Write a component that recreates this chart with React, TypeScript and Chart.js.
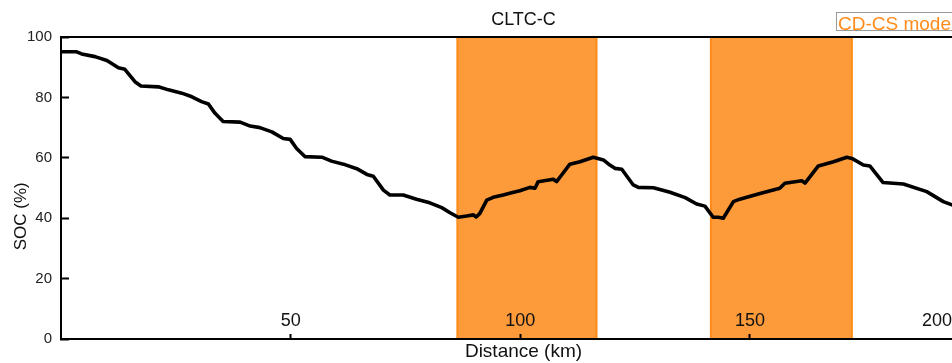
import React, { useEffect, useRef } from "react";
import { Chart, registerables } from "chart.js";

Chart.register(...registerables);

const FONT = '"Liberation Sans", Arial, Helvetica, sans-serif';

// State of charge along the CLTC-C drive (distance in km, SOC in %)
const distanceKm = [
  0, 3.4, 4.5, 7.4, 10.0, 12.5, 13.9, 16.1, 17.4, 21.2, 23.4, 26.3, 28.5, 30.6,
  32.1, 33.5, 35.3, 39.0, 41.2, 43.3, 45.9, 48.4, 49.9, 51.3, 53.1, 56.8, 58.9,
  61.5, 64.4, 66.6, 68.0, 70.2, 71.6, 74.5, 77.4, 80.3, 82.9, 84.7, 86.5, 88.3,
  89.8, 90.4, 91.2, 92.7, 94.1, 96.3, 98.1, 99.9, 102.1, 103.2, 103.9, 107.2,
  107.9, 109.0, 110.8, 113.0, 115.9, 118.1, 119.5, 120.6, 122.1, 124.6, 125.7,
  129.0, 132.6, 135.9, 138.4, 140.2, 142.0, 143.1, 144.2, 146.4, 147.8, 152.2,
  156.5, 157.6, 161.3, 162.0, 164.9, 168.2, 171.1, 172.2, 174.7, 176.1, 179.0,
  183.4, 188.5, 192.1, 194.0, 196.0,
];
const socPercent = [
  95.1, 95.1, 94.4, 93.5, 92.2, 89.8, 89.3, 85.2, 83.8, 83.5, 82.5, 81.4, 80.2,
  78.6, 77.8, 74.8, 72.0, 71.8, 70.5, 70.0, 68.6, 66.4, 66.1, 63.1, 60.4, 60.2,
  58.9, 57.9, 56.4, 54.5, 53.9, 49.3, 47.7, 47.7, 46.3, 45.1, 43.5, 41.8, 40.3,
  40.7, 41.1, 40.4, 41.6, 46.0, 46.9, 47.7, 48.4, 49.1, 50.2, 49.9, 52.1, 52.9,
  52.1, 54.3, 57.9, 58.7, 60.2, 59.3, 57.6, 56.5, 56.2, 51.0, 50.2, 50.1, 48.6,
  46.8, 44.7, 44.0, 40.3, 40.3, 40.0, 45.5, 46.3, 48.2, 49.9, 51.6, 52.4, 51.6,
  57.3, 58.7, 60.2, 59.8, 57.6, 57.3, 51.8, 51.3, 48.8, 45.5, 44.4, 44.0,
];

// Charge-depleting / charge-sustaining windows (km)
const cdcsStartKm = [86.3, 141.5];
const cdcsEndKm = [116.6, 172.2];

const xTickValues = [50, 100, 150, 200];
const yTickValues = [0, 20, 40, 60, 80, 100];
const X_MIN = 0;
const X_MAX = 201.4;

const CDCS_FILL = "#FD9A3A";
const CDCS_EDGE = "#FF8C1A";

export default function App() {
  const canvasRef = useRef<HTMLCanvasElement | null>(null);

  useEffect(() => {
    document.body.style.margin = "0";
    const canvas = canvasRef.current;
    if (!canvas) return;

    const socPoints = distanceKm.map((x, i) => ({ x, y: socPercent[i] }));
    const bandSets = cdcsStartKm.map((start, i) => ({
      label: "CD-CS mode",
      data: [
        { x: start, y: 0 },
        { x: start, y: 100 },
        { x: cdcsEndKm[i], y: 100 },
        { x: cdcsEndKm[i], y: 0 },
      ],
      borderColor: CDCS_EDGE,
      borderWidth: 2,
      backgroundColor: CDCS_FILL,
      fill: "origin",
      pointRadius: 0,
      tension: 0,
      order: 2,
    }));

    const chart = new Chart(canvas, {
      type: "line",
      data: {
        datasets: [
          {
            label: "SOC",
            data: socPoints,
            borderColor: "#000",
            borderWidth: 3.6,
            borderJoinStyle: "round",
            pointRadius: 0,
            fill: false,
            tension: 0,
            order: 1,
          },
          ...bandSets,
        ],
      },
      options: {
        responsive: false,
        animation: false,
        layout: { padding: { left: 0, right: 14, top: 0, bottom: 0 } },
        plugins: {
          legend: { display: false },
          tooltip: { enabled: false },
          title: {
            display: true,
            text: "CLTC-C",
            fullSize: false,
            color: "#111",
            font: { size: 18, family: FONT, weight: "normal" },
            padding: { top: 9, bottom: 6.4 },
          },
        },
        scales: {
          x: {
            type: "linear",
            position: "bottom",
            min: X_MIN,
            max: X_MAX,
            afterBuildTicks: (s: any) => {
              s.ticks = xTickValues.map((value) => ({ value }));
            },
            afterFit: (s: any) => {
              s.height = 24;
              s.paddingLeft = 0;
              s.paddingRight = 0;
            },
            border: { display: true, color: "#000", width: 2, z: 2 },
            grid: {
              z: 2,
              drawOnChartArea: false,
              drawTicks: true,
              tickLength: -5,
              tickColor: "#000",
              tickWidth: 2,
            },
            ticks: {
              z: 2,
              autoSkip: false,
              maxRotation: 0,
              minRotation: 0,
              mirror: true,
              padding: 7,
              color: "#111",
              font: { size: 18, family: FONT },
              // the last label is kept inside the visible frame
              callback: (v: any) =>
                v === 200 ? "200" + " ".repeat(17) : String(v),
            },
            title: {
              display: true,
              text: "Distance (km)",
              color: "#111",
              font: { size: 19, family: FONT },
              padding: 0,
            },
          },
          xTop: {
            type: "linear",
            position: "top",
            min: X_MIN,
            max: X_MAX,
            afterFit: (s: any) => {
              s.height = 0;
              s.paddingLeft = 0;
              s.paddingRight = 0;
            },
            border: { display: true, color: "#000", width: 2, z: 2 },
            grid: { display: false },
            ticks: { display: false },
          },
          y: {
            type: "linear",
            position: "left",
            min: 0,
            max: 100,
            afterBuildTicks: (s: any) => {
              s.ticks = yTickValues.map((value) => ({ value }));
            },
            afterFit: (s: any) => {
              s.width = 61;
              s.paddingTop = 0;
              s.paddingBottom = 0;
            },
            border: { display: true, color: "#000", width: 2, z: 2 },
            grid: {
              z: 2,
              drawOnChartArea: false,
              drawTicks: true,
              tickLength: -8,
              tickColor: "#000",
              tickWidth: 2,
            },
            ticks: {
              z: 2,
              padding: 17,
              color: "#222",
              font: { size: 15, family: FONT },
            },
            title: {
              display: true,
              // trailing spaces push the rotated caption down the axis
              text: "SOC (%)" + " ".repeat(12),
              color: "#111",
              font: { size: 17, family: FONT },
              padding: { top: 11, bottom: 0 },
            },
          },
        },
      },
    });

    return () => chart.destroy();
  }, []);

  return (
    <div
      style={{
        position: "relative",
        width: 952,
        height: 363,
        overflow: "hidden",
        background: "#fff",
      }}
    >
      <canvas
        ref={canvasRef}
        width={1000}
        height={363}
        style={{ display: "block", width: 1000, height: 363 }}
      />
      <div
        style={{
          position: "absolute",
          left: 836,
          top: 12,
          height: 17,
          lineHeight: "17px",
          padding: "0 1px",
          border: "1px solid #9a9a9a",
          color: CDCS_EDGE,
          font: `19px ${FONT}`,
          whiteSpace: "nowrap",
          background: "#fff",
        }}
      >
        CD-CS mode
      </div>
    </div>
  );
}
